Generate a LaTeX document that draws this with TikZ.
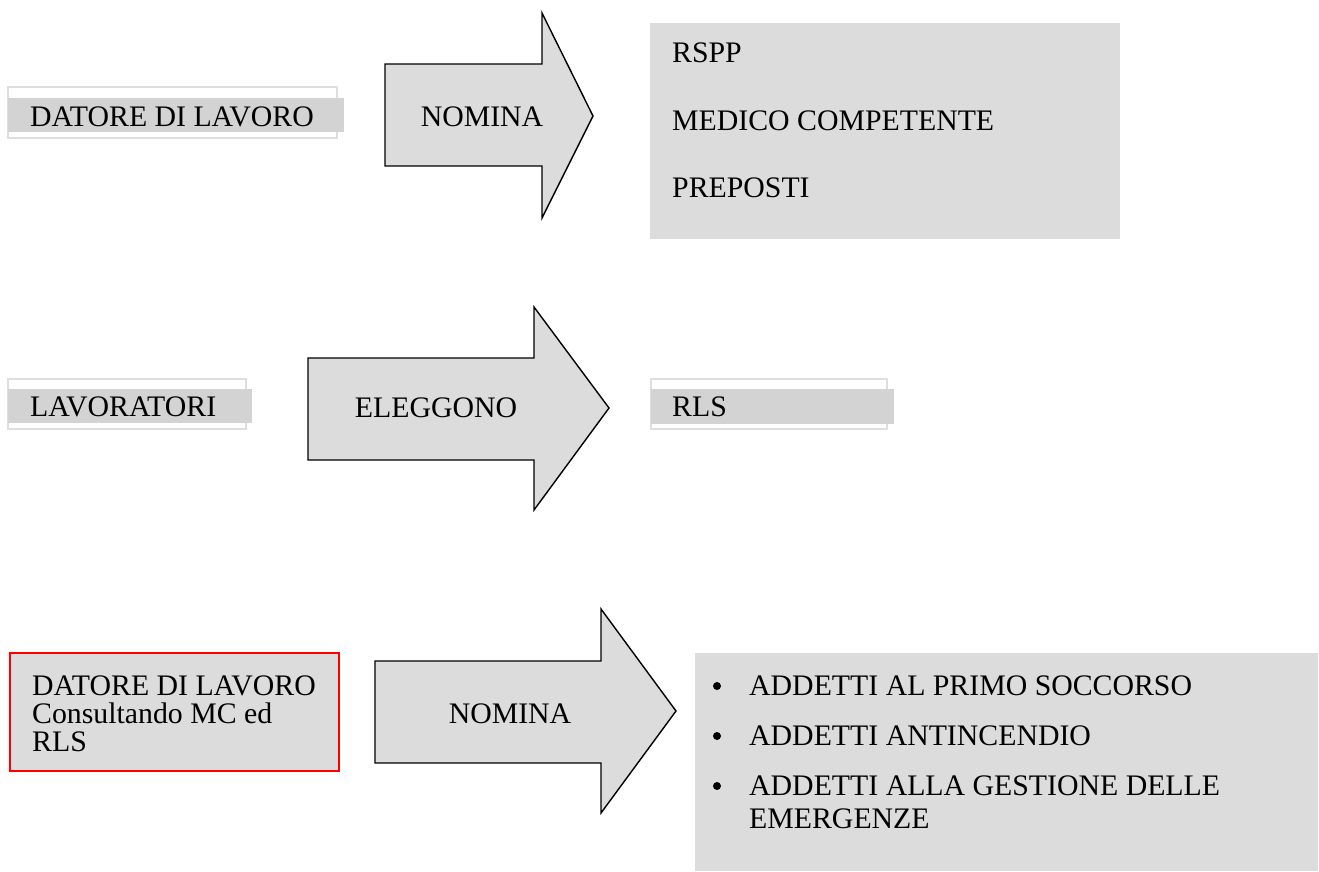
\documentclass[tikz,border=0pt]{standalone}
\usepackage{fontspec}
\setmainfont{Liberation Serif}
\definecolor{boxgray}{HTML}{DCDCDC}
\definecolor{bargray}{HTML}{D3D3D3}
\definecolor{edgegray}{HTML}{DEDEDE}
\begin{document}
\begin{tikzpicture}[x=1pt,y=-1pt,
  txt/.style={anchor=base west,inner sep=0pt,font=\fontsize{29.8}{33}\selectfont},
  ctxt/.style={anchor=base,inner sep=0pt,font=\fontsize{29.8}{33}\selectfont},
  blockarrow/.style={draw=black,line width=1.4pt,fill=boxgray,line join=miter},
  outerframe/.style={draw=edgegray,line width=1.5pt},
  bar/.style={fill=bargray},
  panel/.style={fill=boxgray},
  dot/.style={circle,fill=black,inner sep=0pt,minimum size=8pt}]

\useasboundingbox (0,0) rectangle (1319,871);

% ---------- Row 1 ----------
\draw[outerframe] (8,87) rectangle (337,138);
\fill[bar] (8,98) rectangle (344,132);
\node[txt] (datore1) at (30,126) {DATORE DI LAVORO};

\draw[blockarrow] (385,64) -- (542,64) -- (542,13) -- (593,116) -- (542,218) -- (542,166) -- (385,166) -- cycle;
\node[ctxt] (nomina1) at (482,126) {NOMINA};

\fill[panel] (650,23) rectangle (1120,239);
\node[txt] (rspp) at (672,62) {RSPP};
\node[txt] (medico) at (672,130) {MEDICO COMPETENTE};
\node[txt] (preposti) at (672,197) {PREPOSTI};

% ---------- Row 2 ----------
\draw[outerframe] (8,379) rectangle (246,429);
\fill[bar] (8,389) rectangle (252,423);
\node[txt] (lavoratori) at (30,416) {LAVORATORI};

\draw[blockarrow] (308,358) -- (534,358) -- (534,307) -- (609,408) -- (534,510) -- (534,460) -- (308,460) -- cycle;
\node[ctxt] (eleggono) at (436,417) {ELEGGONO};

\draw[outerframe] (651,379) rectangle (887,429);
\fill[bar] (651,389) rectangle (894,424);
\node[txt] (rls) at (672,416) {RLS};

% ---------- Row 3 ----------
\draw[red,line width=1.5pt,fill=boxgray] (10,653) rectangle (339,771);
\node[txt] (datore2a) at (32,695) {DATORE DI LAVORO};
\node[txt] (datore2b) at (32,723) {Consultando MC ed};
\node[txt] (datore2c) at (32,751) {RLS};

\draw[blockarrow] (375,661) -- (601,661) -- (601,609) -- (676,711) -- (601,813) -- (601,763) -- (375,763) -- cycle;
\node[ctxt] (nomina2) at (510,723) {NOMINA};

\fill[panel] (695,653) rectangle (1318,871);
\node[dot] (b1) at (717,686) {};
\node[txt] (primo) at (749,695) {ADDETTI AL PRIMO SOCCORSO};
\node[dot] (b2) at (717,736) {};
\node[txt] (antincendio) at (749,745) {ADDETTI ANTINCENDIO};
\node[dot] (b3) at (717,786) {};
\node[txt] (gestione) at (749,795) {ADDETTI ALLA GESTIONE DELLE};
\node[txt] (emergenze) at (749,828) {EMERGENZE};
\end{tikzpicture}
\end{document}
